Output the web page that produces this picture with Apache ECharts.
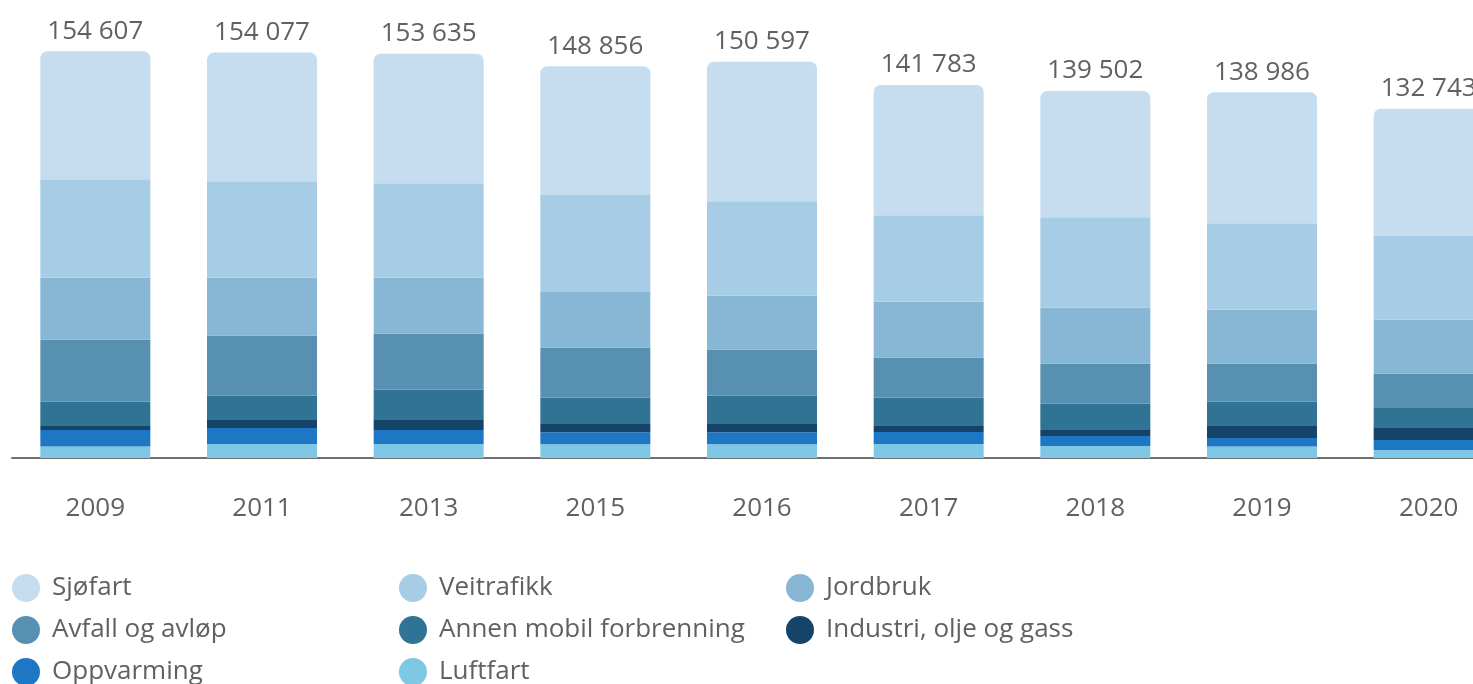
<!DOCTYPE html>
<html>
<head>
<meta charset="utf-8">
<script src="https://cdn.jsdelivr.net/npm/echarts@6/dist/echarts.min.js"></script>
<style>
html,body{margin:0;padding:0;background:#fff;overflow:hidden;width:1473px;height:684px;}
#chart{width:1530px;height:760px;}
</style>
</head>
<body>
<div id="chart"></div>
<script>
const years = ['2009','2011','2013','2015','2016','2017','2018','2019','2020'];
const totals = [154607,154077,153635,148856,150597,141783,139502,138986,132743];
const luftfart   = [4415,5330,5330,5180,5180,5330,4570,4415,3045];
const oppvarming = [6240,6090,5330,4570,4570,4570,3810,3200,3810];
const industri   = [1520,3045,3810,3200,3200,2280,2280,4570,4570];
const annen      = [9250,9250,11530,10010,10770,10770,10010,9250,7610];
const avfall     = [23600,22840,21310,19030,17510,15220,15220,14460,13050];
const jordbruk   = [23600,22070,21310,21430,20550,21310,21310,20550,20550];
const veitrafikk = [37300,36540,35780,36540,35780,32730,34250,32730,31970];
const sjofart    = [48682,48912,49235,48896,53037,49573,48052,49811,48138];

const colors = {
  'Sjøfart':'#c6ddef','Veitrafikk':'#a6cde5','Jordbruk':'#88b7d5','Avfall og avløp':'#5890b1',
  'Annen mobil forbrenning':'#307394','Industri, olje og gass':'#154468','Oppvarming':'#1e77c4','Luftfart':'#7ec8e5'
};
const font = 'Open Sans';
const txt = '#616161';

function fmt(v){ return String(v).replace(/\B(?=(\d{3})+(?!\d))/g,' '); }

function bar(name, data, top){
  const s = {
    name, type:'bar', stack:'total', data, barWidth:110,
    itemStyle:{color:colors[name]},
    emphasis:{disabled:true}
  };
  if(top){
    s.itemStyle.borderRadius=[7,7,0,0];
    s.label={show:true,position:'top',distance:7,fontFamily:font,fontSize:26,color:txt,
      formatter:p=>fmt(totals[p.dataIndex])};
  }
  return s;
}

const legendBase = {
  orient:'vertical', icon:'circle', itemWidth:28, itemHeight:28, itemGap:14, padding:0,
  textStyle:{fontFamily:font,fontSize:26,color:txt,padding:[0,0,0,7]},
  selectedMode:false
};

const chart = echarts.init(document.getElementById('chart'));
chart.setOption({
  animation:false,
  grid:{left:12,top:37,width:1500,height:421},
  xAxis:{type:'category',data:years,
    axisLine:{lineStyle:{color:'#707070',width:2}},
    axisTick:{show:false},
    axisLabel:{fontFamily:font,fontSize:26,color:txt,margin:38}},
  yAxis:{type:'value',min:0,max:160000,show:false,splitLine:{show:false}},
  legend:[
    Object.assign({},legendBase,{left:12,top:574,data:['Sjøfart','Avfall og avløp','Oppvarming']}),
    Object.assign({},legendBase,{left:399,top:574,data:['Veitrafikk','Annen mobil forbrenning','Luftfart']}),
    Object.assign({},legendBase,{left:786,top:574,data:['Jordbruk','Industri, olje og gass']})
  ],
  series:[
    bar('Luftfart',luftfart),
    bar('Oppvarming',oppvarming),
    bar('Industri, olje og gass',industri),
    bar('Annen mobil forbrenning',annen),
    bar('Avfall og avløp',avfall),
    bar('Jordbruk',jordbruk),
    bar('Veitrafikk',veitrafikk),
    bar('Sjøfart',sjofart,true)
  ]
});
</script>
</body>
</html>
